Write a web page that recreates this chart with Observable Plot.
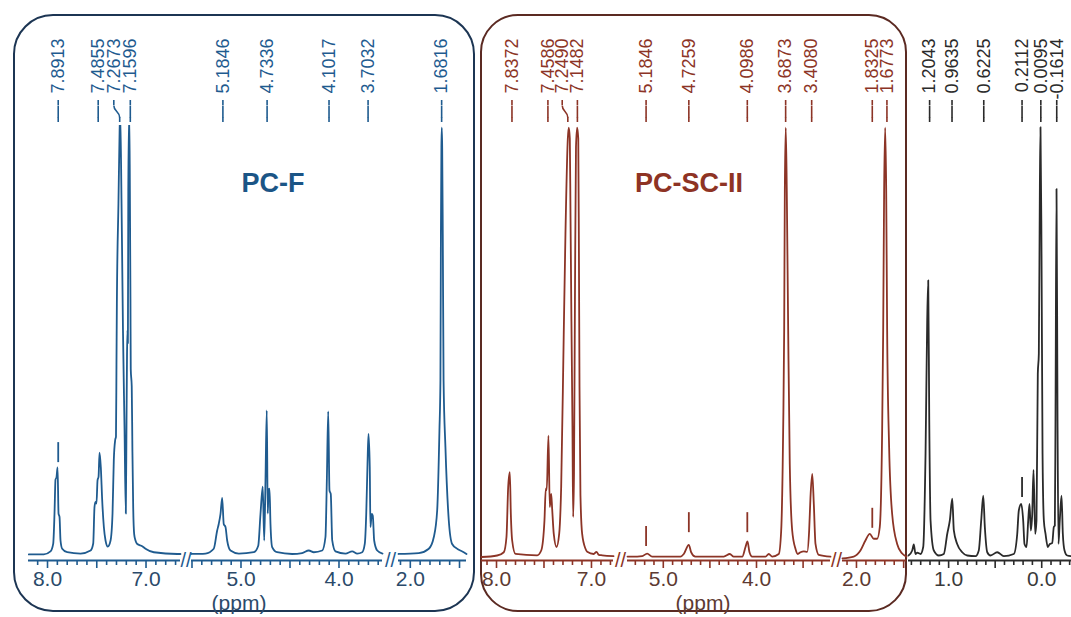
<!DOCTYPE html>
<html><head><meta charset="utf-8">
<script src="https://cdn.jsdelivr.net/npm/d3@7"></script>
<script src="https://cdn.jsdelivr.net/npm/@observablehq/plot@0.6"></script>
<style>
html,body{margin:0;padding:0;background:#fff;}
#wrap{position:relative;width:1071px;height:617px;overflow:hidden;font-family:"Liberation Sans",Arial,sans-serif;}
#wrap svg{position:absolute;left:0;top:0;}
.box{position:absolute;box-sizing:border-box;border:2px solid;border-radius:40px;}
.title{position:absolute;font-weight:bold;font-size:27px;transform:translate(-50%,-50%);white-space:nowrap;}
.unit{position:absolute;font-size:21px;transform:translate(-50%,-50%);white-space:nowrap;}
</style></head><body><div id="wrap"></div>
<script>
// ---------------- DATA (ppm, intensity) ----------------
// PC-F (blue)
const blueA = [[8.190,1.4],[8.038,1.4],[7.970,2.1],[7.942,3.9],[7.929,10.8],[7.919,18.6],[7.909,19.1],[7.898,21.4],[7.888,10.8],[7.878,10.0],[7.868,4.6],[7.851,2.7],[7.800,1.9],[7.665,1.6],[7.563,2.3],[7.536,3.9],[7.523,12.3],[7.513,13.5],[7.503,13.1],[7.492,18.5],[7.482,19.2],[7.472,24.8],[7.459,21.5],[7.445,13.9],[7.428,7.7],[7.411,4.6],[7.388,3.2],[7.360,4.6],[7.340,10.8],[7.327,23.1],[7.313,27.7],[7.305,28.5],[7.300,45],[7.296,59],[7.280,82],[7.268,99],[7.262,103],[7.249,83],[7.234,53],[7.218,30],[7.205,10.8],[7.198,32],[7.193,47],[7.188,53],[7.184,50],[7.180,85],[7.171,103],[7.165,90],[7.158,60],[7.155,44],[7.145,40],[7.138,25],[7.130,12],[7.120,6],[7.107,4.6],[7.089,3.8],[7.039,3.3],[7.005,2.7],[6.921,1.9],[6.683,1.5],[6.650,1.5]];
const blueB = [[5.505,1.5],[5.362,1.6],[5.278,2.7],[5.243,6.9],[5.227,8.4],[5.209,10.7],[5.192,14.4],[5.176,8.4],[5.158,7.7],[5.141,4.6],[5.107,2.3],[5.022,1.6],[4.869,1.9],[4.824,3.4],[4.801,10.7],[4.778,17],[4.763,4.6],[4.750,18.4],[4.737,34.5],[4.727,10.8],[4.719,16.1],[4.709,16.5],[4.699,8.4],[4.682,3.1],[4.631,1.9],[4.478,1.5],[4.376,1.7],[4.308,2.3],[4.257,1.9],[4.171,2.3],[4.138,5.4],[4.124,18.4],[4.110,34.3],[4.097,16.1],[4.084,15.3],[4.069,4.6],[4.036,2.1],[3.934,1.6],[3.865,2.1],[3.814,1.6],[3.763,1.9],[3.737,3.8],[3.722,10.7],[3.709,22.2],[3.699,29.1],[3.686,21.5],[3.679,7.7],[3.666,10.7],[3.655,10.3],[3.641,4.6],[3.610,2.3],[3.556,1.6]];
const blueC = [[2.120,1.5],[1.914,1.7],[1.812,2.7],[1.761,5.4],[1.727,11.5],[1.704,29.9],[1.694,41.4],[1.689,75],[1.684,95],[1.680,99.5],[1.676,95],[1.670,75],[1.662,41.4],[1.643,26],[1.609,9.2],[1.575,3.8],[1.524,2.7],[1.501,2.4],[1.457,1.9],[1.429,1.5]];
// PC-SC-II (red)
const redA = [[8.158,0.8],[7.993,1.15],[7.923,1.9],[7.895,5.4],[7.877,16.9],[7.860,20.3],[7.849,10.7],[7.835,4.6],[7.800,1.5],[7.572,1.2],[7.529,2.3],[7.495,9.2],[7.481,16.5],[7.471,16.2],[7.453,28.7],[7.439,12.3],[7.424,15.3],[7.414,11.9],[7.397,6.1],[7.368,3.1],[7.340,6.1],[7.319,16.9],[7.292,52],[7.274,75],[7.249,97],[7.239,99.5],[7.228,97],[7.221,80],[7.211,55],[7.200,30],[7.193,10],[7.184,20],[7.174,60],[7.163,95],[7.151,99.5],[7.139,97],[7.132,70],[7.126,40],[7.116,15],[7.098,6.1],[7.063,2.7],[7.045,2.0],[6.976,1.5],[6.947,2.0],[6.923,1.3],[6.887,1.2],[6.768,1.0]];
const redB = [[5.384,0.9],[5.280,0.9],[5.226,1.0],[5.173,1.6],[5.119,0.9],[4.815,0.9],[4.780,1.5],[4.726,3.6],[4.701,1.9],[4.655,0.9],[4.351,0.9],[4.286,1.5],[4.244,0.9],[4.153,0.9],[4.118,3.1],[4.097,4.4],[4.075,1.9],[4.046,0.9],[3.903,0.9],[3.868,1.5],[3.832,0.9],[3.761,1.5],[3.735,6.9],[3.714,29.9],[3.703,52.9],[3.696,85],[3.686,99.5],[3.675,85],[3.660,52.9],[3.643,22.2],[3.617,6.9],[3.582,2.7],[3.557,1.5],[3.528,1.9],[3.492,2.1],[3.456,2.0],[3.435,6.9],[3.421,14.5],[3.402,19.9],[3.385,13],[3.367,3.8],[3.332,1.3],[3.206,0.9]];
const redC = [[2.148,0.5],[2.029,0.9],[1.958,2.3],[1.905,4.6],[1.859,6.1],[1.817,5.0],[1.781,5.0],[1.753,7.7],[1.728,29.9],[1.717,52.9],[1.707,85],[1.696,99.5],[1.685,85],[1.675,52.9],[1.654,26],[1.622,10.7],[1.569,3.8],[1.516,1.6],[1.470,0.9]];
// black spectrum
const blackA = [[1.431,1.15],[1.391,2.3],[1.374,3.7],[1.356,1.5],[1.337,1.8],[1.302,1.5],[1.273,3.1],[1.248,24.5],[1.230,55.2],[1.219,64.4],[1.208,32.2],[1.194,9.2],[1.159,2.3],[1.105,1.15],[1.052,1.5],[1.015,6.1],[0.987,9.2],[0.961,14.2],[0.944,6.9],[0.908,3.8],[0.854,1.9],[0.800,1.15],[0.711,1.0],[0.676,2.3],[0.650,9.2],[0.628,14.9],[0.611,7.7],[0.585,1.9],[0.550,1.15],[0.478,1.9],[0.407,1.0],[0.300,1.5],[0.263,6.1],[0.246,11.5],[0.220,13],[0.199,9.2],[0.185,3.8],[0.163,3.1],[0.145,9.2],[0.131,13],[0.117,6.9],[0.102,10.7],[0.088,20.8],[0.070,6.1],[0.056,9.2],[0.042,42.9],[0.031,47.5],[0.020,85.8],[0.013,99.6],[0.002,70.5],[-0.009,24.5],[-0.023,9.2],[-0.041,6.1],[-0.066,3.1],[-0.087,3.8],[-0.113,4.0],[-0.130,7.7],[-0.141,8],[-0.148,32.2],[-0.159,85.4],[-0.170,32.2],[-0.180,3.8],[-0.194,9.2],[-0.213,14.9],[-0.227,6.1],[-0.245,2.3],[-0.274,1.15],[-0.320,1.0]];

// peak labels
const blueLabels = ["7.8913","7.4855","7.2673","7.1596","5.1846","4.7336","4.1017","3.7032","1.6816"];
const blueLabelSlots = [7.8913,7.4855,7.327,7.1596,5.1846,4.7336,4.1017,3.7032,1.6816];
const redLabels = ["7.8372","7.4586","7.2490","7.1482","5.1846","4.7259","4.0986","3.6873","3.4080","1.8325","1.6773"];
const redLabelSlots = [7.8372,7.4586,7.308,7.1482,5.1846,4.7259,4.0986,3.6873,3.4080,1.8325,1.6773];
const blackLabels = ["1.2043","0.9635","0.6225","0.2112","0.0095","-0.1614"];
const blackLabelSlots = [1.2043,0.9635,0.6225,0.2112,0.0095,-0.1614];

// small peak markers (ppm, intensity level of marker bottom)
const blueMarkerPpm = [7.8913], blueMarkerLevel = [22.5];
const redMarkerPpm = [5.1846,4.7259,4.0986,1.8325], redMarkerLevel = [3.2,6.4,6.4,7.4];
const blackMarkerPpm = [0.2112], blackMarkerLevel = [14.5];

// axis tick labels
const blueTickLabels = ["8.0","7.0","5.0","4.0","2.0"];
const redTickLabels = ["8.0","7.0","5.0","4.0","2.0"];
const blackTickLabels = ["1.0","0.0"];

// broken-axis segments: ppm range and pixel range
const blueSegments = [{from:8.193,to:6.650,x0:28,x1:180},{from:5.505,to:3.556,x0:191,x1:382},{from:2.120,to:1.429,x0:398,x1:466}];
const redSegments = [{from:8.158,to:6.768,x0:481,x1:613},{from:5.384,to:3.206,x0:627,x1:830},{from:2.148,to:1.470,x0:842,x1:906}];
const blackSegments = [{from:1.431,to:-0.320,x0:908,x1:1071}];

// ---------------- LAYOUT ----------------
const W = 1071, H = 617, TOP = 125, BASE = 560;
const unit = (BASE - TOP) / 100;
const vAt = px => (BASE - px) / unit;
const inSeg = (s, p) => p <= s.from + 1e-6 && p >= s.to - 1e-6;

function drawSegment(o, i) {
  const s = o.segments[i], prev = o.segments[i - 1];
  const pts = o.lines[i].map(([ppm, v]) => ({ppm, v}));
  const minor = [], major = [];
  for (let k = Math.ceil(s.to * 10 - 1e-6); k <= Math.floor(s.from * 10 + 1e-6); k++)
    (k % 5 === 0 ? major : minor).push(k / 10);
  const peaks = o.labels.map((t, j) => ({text: t, ppm: +t, slot: o.slots[j]})).filter(d => inSeg(s, d.slot));
  const marks = o.markerPpm.map((p, j) => ({ppm: p, v: o.markerLevel[j]})).filter(d => inSeg(s, d.ppm));
  const fmt = d => o.tickLabels.find(l => Math.abs(+l - d) < 1e-6) ?? "";
  const breaks = prev ? [s.from] : [];
  return Plot.plot({
    width: W, height: H,
    marginTop: TOP, marginBottom: H - BASE, marginLeft: 0, marginRight: 0,
    style: {background: "transparent", fontFamily: '"Liberation Sans", Arial, sans-serif', fontSize: "21px", color: o.labelColor, overflow: "visible"},
    x: {domain: [s.from, s.to], range: [s.x0, s.x1], axis: null, label: null},
    y: {domain: [0, 100], axis: null, label: null},
    marks: [
      Plot.axisX({ticks: minor, tickSize: 5, tickFormat: () => "", stroke: o.color, strokeWidth: 1.6, label: null}),
      Plot.axisX({ticks: major, tickSize: 8, tickPadding: 3, tickFormat: fmt, stroke: o.color, fill: o.labelColor, strokeWidth: 1.6, label: null}),
      Plot.ruleY([0], {y: d => d, x1: s.from, x2: s.to, stroke: o.color, strokeWidth: 2}),
      Plot.text(breaks, {x: d => d, y: 0, dx: prev ? -(s.x0 - prev.x1) / 2 : 0, text: () => "//", fontSize: 20, fill: o.color, textAnchor: "middle", lineAnchor: "middle"}),
      Plot.line(pts, {x: "ppm", y: "v", stroke: o.color, strokeWidth: 1.8, curve: "monotone-x", clip: true, strokeLinejoin: "round"}),
      Plot.ruleX(marks, {x: "ppm", y1: "v", y2: d => d.v + 4.6, stroke: o.color, strokeWidth: 1.8}),
      Plot.ruleX(peaks, {x: "slot", y1: vAt(100), y2: vAt(105), stroke: o.color, strokeWidth: 1.6}),
      Plot.link(peaks, {x1: "slot", y1: vAt(105), x2: "ppm", y2: vAt(117), curve: "bump-y", stroke: o.color, strokeWidth: 1.6}),
      Plot.ruleX(peaks, {x: "ppm", y1: vAt(117), y2: vAt(122), stroke: o.color, strokeWidth: 1.6}),
      Plot.text(peaks, {x: "slot", text: "text", frameAnchor: "top", dy: 38 - TOP, rotate: -90, textAnchor: "end", lineAnchor: "middle", fontSize: 18, fill: o.color})
    ]
  });
}

const wrap = document.getElementById("wrap");
function addDiv(cls, css, text) {
  const d = document.createElement("div");
  d.className = cls; Object.assign(d.style, css);
  if (text) d.textContent = text;
  wrap.appendChild(d);
}
addDiv("box", {left: "13px", top: "14px", width: "462px", height: "598px", borderColor: "#1c3553"});
addDiv("box", {left: "480px", top: "14px", width: "427px", height: "598px", borderColor: "#5b2a22", borderRadius: "38px"});

const spectra = [
  {segments: blueSegments, lines: [blueA, blueB, blueC], color: "#1f5b8f", labelColor: "#2b4a6a",
    labels: blueLabels, slots: blueLabelSlots, markerPpm: blueMarkerPpm, markerLevel: blueMarkerLevel, tickLabels: blueTickLabels},
  {segments: redSegments, lines: [redA, redB, redC], color: "#8c3426", labelColor: "#5d3a32",
    labels: redLabels, slots: redLabelSlots, markerPpm: redMarkerPpm, markerLevel: redMarkerLevel, tickLabels: redTickLabels},
  {segments: blackSegments, lines: [blackA], color: "#2a2a2a", labelColor: "#3a3a3a",
    labels: blackLabels, slots: blackLabelSlots, markerPpm: blackMarkerPpm, markerLevel: blackMarkerLevel, tickLabels: blackTickLabels}
];
spectra.forEach(o => o.segments.forEach((s, i) => wrap.appendChild(drawSegment(o, i))));

addDiv("title", {left: "273px", top: "183px", color: "#1b5586"}, "PC-F");
addDiv("title", {left: "689px", top: "183px", color: "#8e3324"}, "PC-SC-II");
addDiv("unit", {left: "239px", top: "603px", color: "#2b4a6a"}, "(ppm)");
addDiv("unit", {left: "703px", top: "603px", color: "#5d3a32"}, "(ppm)");
</script></body></html>
